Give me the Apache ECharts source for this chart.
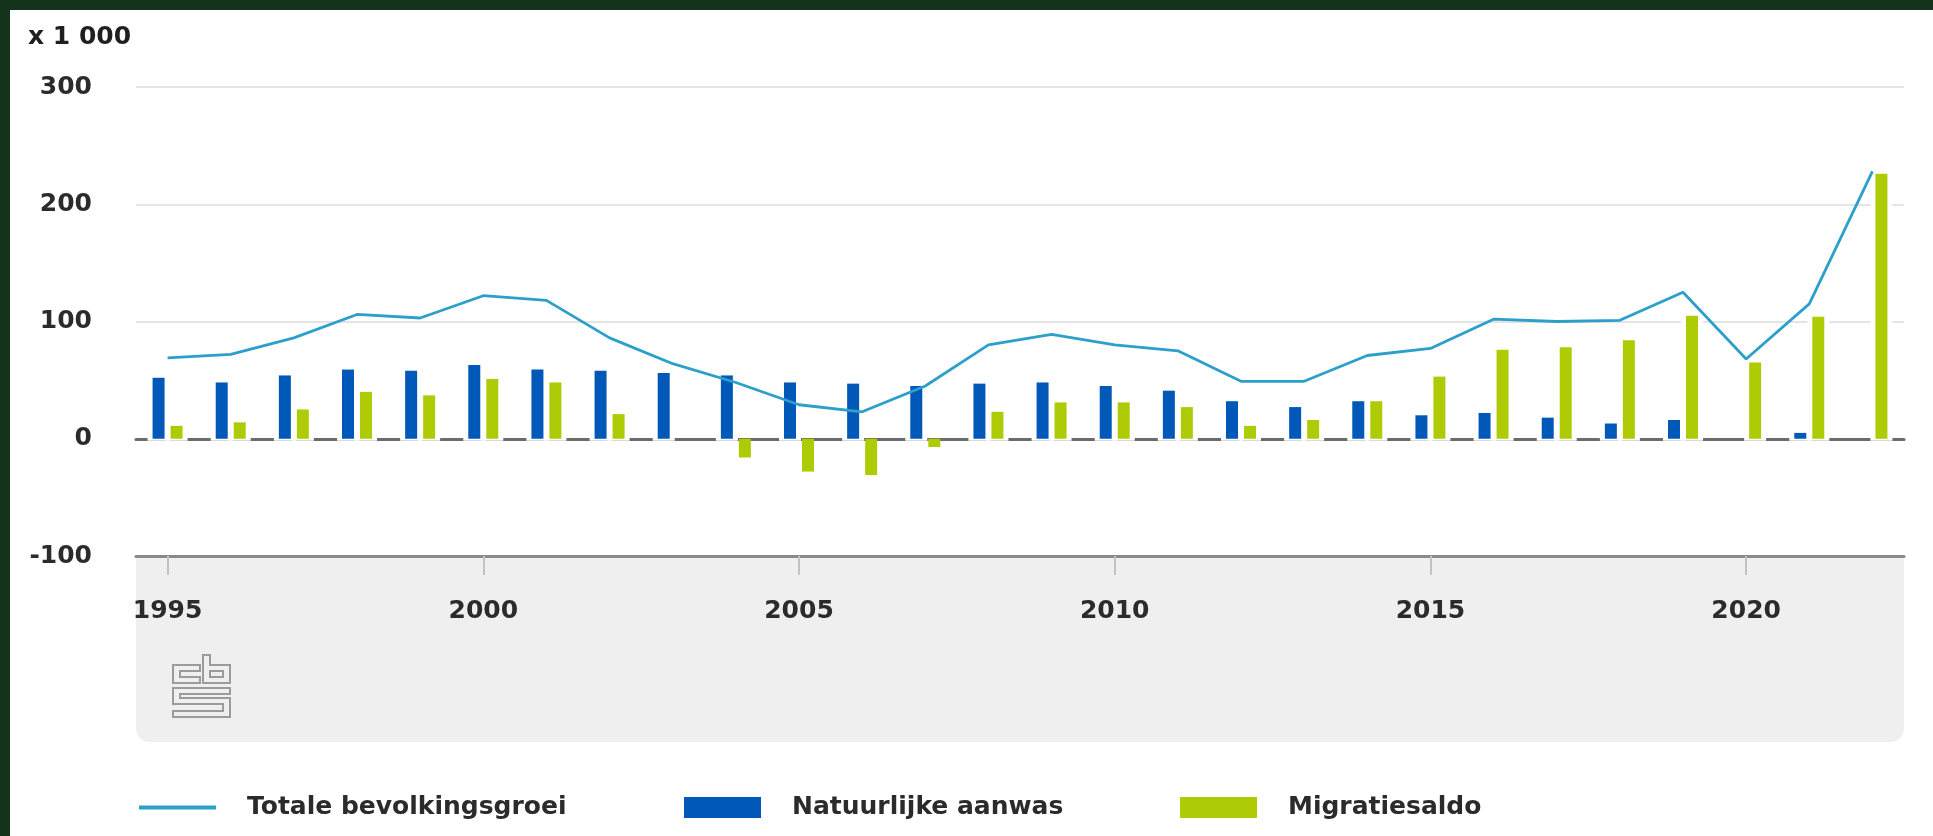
<!DOCTYPE html>
<html>
<head>
<meta charset="utf-8">
<title>Bevolkingsgroei</title>
<script src="https://cdn.jsdelivr.net/npm/echarts@6/dist/echarts.min.js"></script>
<style>
  html, body { margin: 0; padding: 0; background: #14331d; }
  #chart { position: absolute; left: 10px; top: 10px; width: 1923px; height: 826px; background: #fff; }
</style>
</head>
<body>
<div id="chart"></div>
<script>
// data (x 1 000)
var years = ['1995', '1996', '1997', '1998', '1999', '2000', '2001', '2002', '2003', '2004',
             '2005', '2006', '2007', '2008', '2009', '2010', '2011', '2012', '2013', '2014',
             '2015', '2016', '2017', '2018', '2019', '2020', '2021', '2022'];
var totaleGroei = [69, 72, 86, 106, 103, 122, 118, 86, 64, 48,
                   29, 23, 45, 80, 89, 80, 75, 49, 49, 71,
                   77, 102, 100, 101, 125, 68, 115, 228];
var natuurlijkeAanwas = [52, 48, 54, 59, 58, 63, 59, 58, 56, 54,
                         48, 47, 45, 47, 48, 45, 41, 32, 27, 32,
                         20, 22, 18, 13, 16, 0, 5, 0];
var migratiesaldo = [11, 14, 25, 40, 37, 51, 48, 21, 0, -16,
                     -28, -31, -7, 23, 31, 31, 27, 11, 16, 32,
                     53, 76, 78, 84, 105, 65, 104, 226];
var yMin = -100, yMax = 300, yStep = 100;

var W = 1923, H = 826;
var grid = { left: 126, right: 29, top: 77, bottom: 280 };
var gridH = H - grid.top - grid.bottom;
// hidden axis for the white "halo" behind bars, sits 2px lower
var haloShift = 2 * (yMax - yMin) / gridH;

var BLUE = '#0058b8', GREEN = '#afcb05', LINE = '#2c9fcb', TEXT = '#2b2b2b';
var font = 'DejaVu Sans';

function positiveOnly(arr) {
    return arr.map(function (v) { return v > 0 ? v : null; });
}
function everyFifth(i) { return i % 5 === 0; }

var legendText = { fontSize: 25, fontWeight: 'bold', color: TEXT, fontFamily: font, padding: [0, 0, 0, 26] };

var chart = echarts.init(document.getElementById('chart'));

chart.setOption({
    animation: false,
    backgroundColor: '#fff',
    textStyle: { fontFamily: font },
    title: {
        text: 'x 1 000', left: 18, top: 15, padding: 0,
        textStyle: { fontSize: 25, fontWeight: 'bold', color: '#1f1f1f', fontFamily: font }
    },
    grid: grid,
    legend: [
        {
            left: 129, top: 785, padding: 0, itemWidth: 77, itemHeight: 21,
            data: [{ name: 'Totale bevolkingsgroei', icon: 'path://M0,0H77V4H0Z', itemStyle: { color: LINE } }],
            textStyle: legendText
        },
        {
            left: 674, top: 785, padding: 0, itemWidth: 77, itemHeight: 21,
            data: [{ name: 'Natuurlijke aanwas', icon: 'rect' }],
            textStyle: legendText
        },
        {
            left: 1170, top: 785, padding: 0, itemWidth: 77, itemHeight: 21,
            data: [{ name: 'Migratiesaldo', icon: 'rect' }],
            textStyle: legendText
        }
    ],
    xAxis: [
        {
            type: 'category', data: years, position: 'bottom', z: 6,
            axisLine: { onZero: false, lineStyle: { color: '#8a8a8a', width: 3 } },
            axisTick: { show: true, alignWithLabel: true, interval: everyFifth, length: 19, lineStyle: { color: '#c2c2c2', width: 2 } },
            axisLabel: { interval: everyFifth, margin: 43, fontSize: 25, fontWeight: 'bold', color: TEXT, fontFamily: font },
            splitLine: { show: false }
        },
        {
            // zero line
            type: 'category', data: years, position: 'bottom', z: 1,
            axisLine: { show: true, onZero: true, onZeroAxisIndex: 0, lineStyle: { color: '#6b6b6b', width: 3 } },
            axisTick: { show: false },
            axisLabel: { show: false },
            splitLine: { show: false }
        }
    ],
    yAxis: [
        {
            type: 'value', min: yMin, max: yMax, interval: yStep, z: 0,
            axisLine: { show: false },
            axisTick: { show: false },
            axisLabel: { margin: 44, fontSize: 25, fontWeight: 'bold', color: TEXT, fontFamily: font },
            splitLine: { lineStyle: { color: '#e4e4e4', width: 2 } }
        },
        {
            type: 'value', min: yMin + haloShift, max: yMax + haloShift, show: false
        }
    ],
    graphic: [
        {
            type: 'rect', z: -1, silent: true,
            shape: { x: grid.left, y: H - grid.bottom, width: W - grid.left - grid.right, height: 186, r: [0, 0, 14, 14] },
            style: { fill: '#efefef' }
        },
        {
            // cbs logo
            type: 'group', x: 163, y: 645, silent: true,
            children: [
                { type: 'polygon', shape: { points: [[27, 10], [0, 10], [0, 28], [27, 28], [27, 22], [7, 22], [7, 16], [27, 16]] },
                  style: { fill: 'none', stroke: '#9b9b9b', lineWidth: 2 } },
                { type: 'polygon', shape: { points: [[30, 0], [37, 0], [37, 10], [57, 10], [57, 28], [30, 28]] },
                  style: { fill: 'none', stroke: '#9b9b9b', lineWidth: 2 } },
                { type: 'polygon', shape: { points: [[37, 16], [50, 16], [50, 22], [37, 22]] },
                  style: { fill: 'none', stroke: '#9b9b9b', lineWidth: 2 } },
                { type: 'polygon', shape: { points: [[57, 33], [0, 33], [0, 49], [50, 49], [50, 56], [0, 56], [0, 62], [57, 62], [57, 43], [7, 43], [7, 39], [57, 39]] },
                  style: { fill: 'none', stroke: '#9b9b9b', lineWidth: 2 } }
            ]
        }
    ],
    series: [
        {
            name: 'halo1', type: 'bar', xAxisIndex: 1, yAxisIndex: 1, silent: true, z: 2,
            data: positiveOnly(natuurlijkeAanwas), barWidth: 22, barGap: '-18.18%',
            itemStyle: { color: '#fff' }
        },
        {
            name: 'halo2', type: 'bar', xAxisIndex: 1, yAxisIndex: 1, silent: true, z: 2,
            data: positiveOnly(migratiesaldo), barWidth: 22, barGap: '-18.18%',
            itemStyle: { color: '#fff' }
        },
        {
            name: 'Natuurlijke aanwas', type: 'bar', z: 3,
            data: natuurlijkeAanwas, barWidth: 12, barGap: '50%',
            itemStyle: { color: BLUE }
        },
        {
            name: 'Migratiesaldo', type: 'bar', z: 3,
            data: migratiesaldo, barWidth: 12, barGap: '50%',
            itemStyle: { color: GREEN }
        },
        {
            name: 'Totale bevolkingsgroei', type: 'line', z: 4,
            data: totaleGroei, symbol: 'none',
            lineStyle: { color: LINE, width: 2.8 },
            itemStyle: { color: LINE }
        }
    ]
});

window.addEventListener('resize', function () {
    chart.resize();
});
</script>
</body>
</html>
